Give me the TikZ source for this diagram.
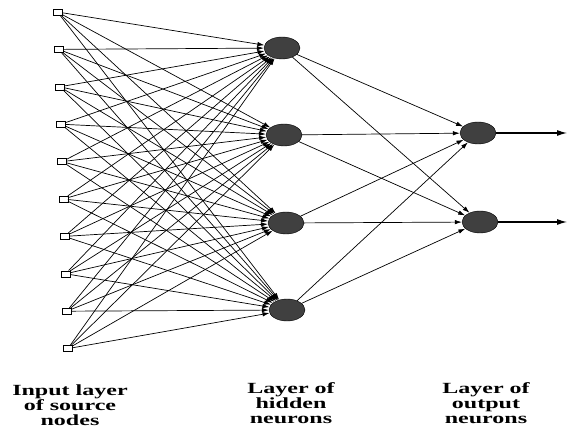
\documentclass[tikz,border=0pt]{standalone}
\usepackage{fontspec}
\setmainfont{Liberation Serif}
\newfontfamily\labelfont[FakeStretch=1.55]{Liberation Serif}
\usetikzlibrary{shapes.geometric,arrows.meta}

\begin{document}
\begin{tikzpicture}[ x=1pt,y=-1pt,>={Latex[length=7pt,width=4.5pt]},
    source/.style={ draw,thin,fill=white,minimum width=9pt,minimum height=6pt,inner sep=0pt },
    neuron/.style={ ellipse,draw,thin,fill=black!75,minimum width=36pt,minimum height=22pt,inner sep=0pt },
    layerlabel/.style={ anchor=north,align=center,inner sep=0pt,font=\labelfont\bfseries\fontsize{15.5}{15}\selectfont } ]
    \useasboundingbox (0,0) rectangle (570,430);

    \foreach \i in {1,...,10}
        \node [ source ] (in\i) at ({57.5+1.15*(\i-1)},{12+37.4*(\i-1)}) {};

    \node [ neuron ] (hid1) at (282,48) {};
    \node [ neuron ] (hid2) at (284,135) {};
    \node [ neuron ] (hid3) at (286,223) {};
    \node [ neuron ] (hid4) at (287,310) {};

    \node [ neuron ] (out1) at (478,133) {};
    \node [ neuron ] (out2) at (480,222) {};
    \coordinate (y1) at (567,133);
    \coordinate (y2) at (567,222);

    \foreach \i in {1,...,10}
        \foreach \h in {1,...,4}
            \draw [ line width=0.7pt,-> ] (in\i) -- (hid\h);
    \foreach \h in {1,...,4}
        \foreach \o in {1,2}
            \draw [ line width=0.7pt,-> ] (hid\h) -- (out\o);
    \draw [ line width=1.1pt,-{Latex[length=10pt,width=6pt]} ] (out1) -- (y1);
    \draw [ line width=1.1pt,-{Latex[length=10pt,width=6pt]} ] (out2) -- (y2);

    \node [ layerlabel ] (lblin) at (70,385) {Input layer\\of source\\nodes};
    \node [ layerlabel ] (lblhid) at (291,382) {Layer of\\hidden\\neurons};
    \node [ layerlabel ] (lblout) at (486,382) {Layer of\\output\\neurons};
\end{tikzpicture}
\end{document}
